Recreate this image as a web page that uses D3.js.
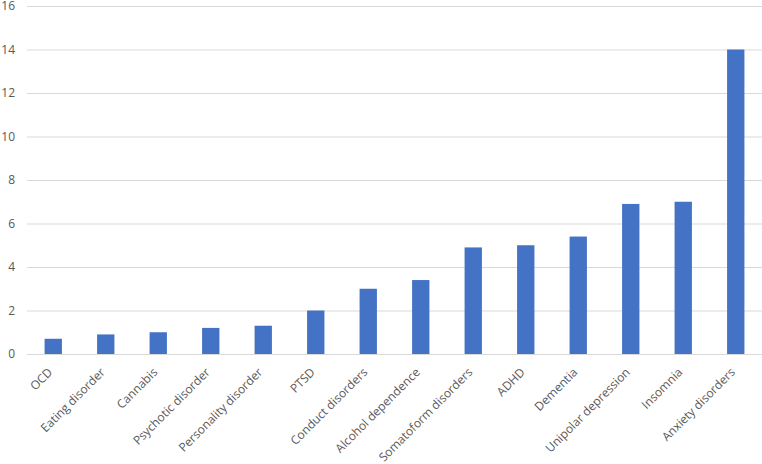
<!DOCTYPE html>
<html lang="en">
  <head>
    <meta charset="UTF-8" />
    <script src="https://d3js.org/d3.v7.min.js"></script>
    <title>Disorders bar chart</title>
    <style type="text/css">
      body {
        margin: 0;
        background: #fff;
      }
      .tick text {
        fill: #595959;
        font-size: 12px;
        font-family: 'Open Sans', sans-serif;
      }
      .grid line {
        stroke: #d9d9d9;
      }
      .domain {
        display: none;
      }
    </style>
  </head>
  <body>
    <svg width="762" height="464"></svg>
  </body>
  <script type="text/javascript">
    // data
    const categories = [
      'OCD',
      'Eating disorder',
      'Cannabis',
      'Psychotic disorder',
      'Personality disorder',
      'PTSD',
      'Conduct disorders',
      'Alcohol dependence',
      'Somatoform disorders',
      'ADHD',
      'Dementia',
      'Unipolar depression',
      'Insomnia',
      'Anxiety disorders',
    ];
    const values = [0.7, 0.9, 1.0, 1.2, 1.3, 2.0, 3.0, 3.4, 4.9, 5.0, 5.4, 6.9, 7.0, 14.0];
    const yTicks = [0, 2, 4, 6, 8, 10, 12, 14, 16];

    const margin = { top: 6, right: 0, bottom: 110, left: 27 };
    const width = 762 - margin.left - margin.right;
    const height = 464 - margin.top - margin.bottom;

    const svg = d3.select('svg');
    const g = svg.append('g').attr('transform', `translate(${margin.left}, ${margin.top})`);

    const xScale = d3.scaleBand().domain(categories).range([0, width]).paddingInner(0.67).paddingOuter(0.335);
    const yScale = d3.scaleLinear().domain([0, 16]).range([height, 0]);

    // grid lines + y labels
    g.append('g')
      .attr('class', 'grid')
      .call(d3.axisLeft(yScale).tickValues(yTicks).tickSize(-width).tickPadding(12))
      .selectAll('.tick line')
      .attr('x1', 0);

    // bars
    g.selectAll('rect')
      .data(values)
      .enter()
      .append('rect')
      .attr('x', (d, i) => xScale(categories[i]))
      .attr('y', (d) => yScale(d))
      .attr('width', xScale.bandwidth())
      .attr('height', (d) => height - yScale(d))
      .attr('fill', '#4472c4');

    // x labels, rotated
    const xAxis = g
      .append('g')
      .attr('transform', `translate(0, ${height})`)
      .call(d3.axisBottom(xScale).tickSize(0).tickPadding(0));
    xAxis
      .selectAll('.tick text')
      .attr('text-anchor', 'end')
      .attr('dy', 0)
      .attr('transform', 'translate(0, 19) rotate(-45)');
  </script>
</html>
